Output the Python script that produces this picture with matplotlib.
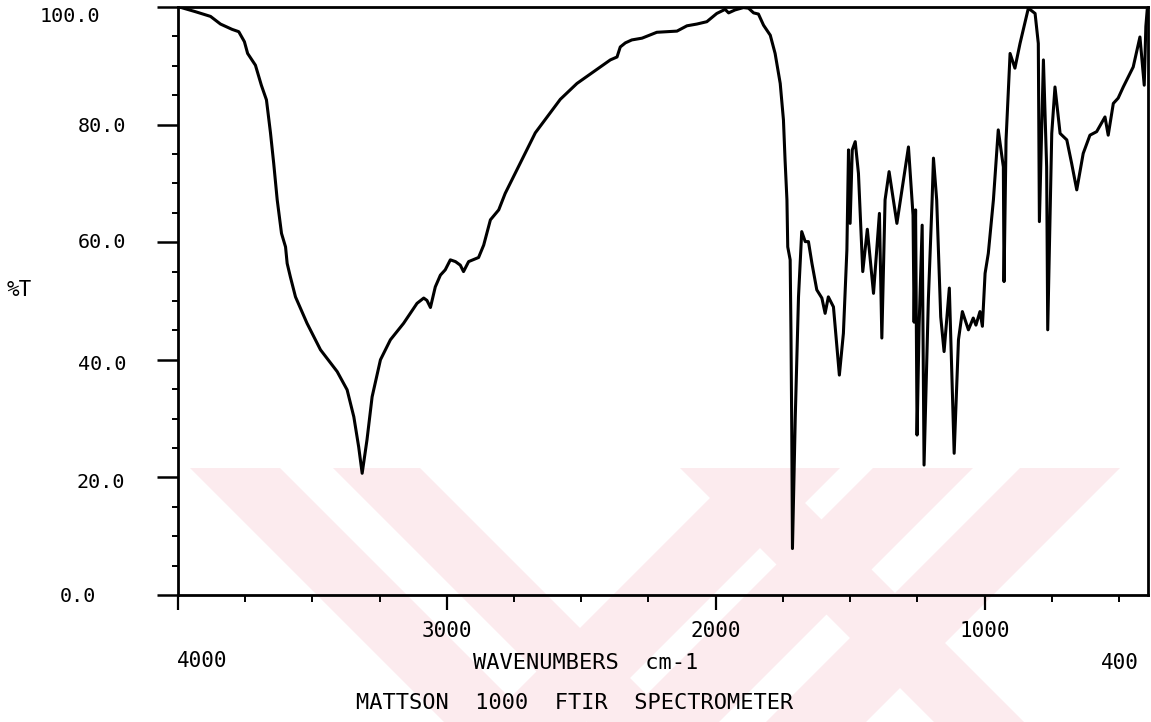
import matplotlib
matplotlib.use('Agg')
import matplotlib.pyplot as plt
from matplotlib.patches import Polygon
from matplotlib.ticker import FixedLocator

# spectrum (cm-1, %T)
wavenumber = [3995, 3935, 3879, 3842, 3799, 3774, 3753, 3741, 3712, 3690,
              3671, 3656, 3644, 3631, 3615, 3600, 3594, 3582, 3563, 3520,
              3470, 3408, 3371, 3346, 3328, 3315, 3297, 3278, 3247, 3210,
              3161, 3111, 3086, 3074, 3061, 3043, 3024, 3006, 2987, 2968,
              2950, 2938, 2919, 2882, 2863, 2838, 2807, 2783, 2758, 2671,
              2578, 2516, 2454, 2392, 2367, 2355, 2336, 2312, 2274, 2219,
              2144, 2107, 2070, 2033, 1996, 1965, 1952, 1928, 1897, 1878,
              1859, 1841, 1822, 1797, 1779, 1760, 1748, 1742, 1735, 1732,
              1723, 1720, 1717, 1714.5, 1704, 1692, 1680, 1667, 1655, 1642,
              1624, 1605, 1593, 1581, 1562, 1540, 1525, 1512, 1506, 1500,
              1492, 1481, 1469, 1453, 1436, 1413, 1391, 1382, 1370, 1355,
              1326, 1283, 1266, 1262, 1256.5, 1251, 1243.5, 1232, 1225, 1209,
              1195, 1190, 1178, 1163, 1150.5, 1131, 1113, 1097, 1082.5, 1060,
              1042, 1032, 1017, 1008, 998, 986, 967, 949, 930, 927.5,
              920, 905, 887, 868, 837, 812, 800, 796, 781, 769,
              765, 750, 738, 719, 694, 676, 657, 633, 608, 583,
              552, 540, 521, 503, 484, 447, 422, 406, 400, 395]
transmittance = [100.0, 99.2, 98.4, 97.1, 96.2, 95.8, 94.1, 92.1, 90.1, 86.7,
                 84.2, 78.6, 73.4, 67.2, 61.5, 59.2, 56.4, 54.1, 50.7, 46.2,
                 41.7, 38.0, 34.9, 30.3, 25.2, 20.7, 26.4, 33.7, 40.0, 43.4,
                 46.2, 49.6, 50.5, 50.1, 48.9, 52.4, 54.4, 55.3, 57.0, 56.7,
                 56.1, 55.0, 56.7, 57.4, 59.5, 63.8, 65.5, 68.3, 70.6, 78.6,
                 84.3, 87.0, 89.0, 91.0, 91.5, 93.2, 93.9, 94.4, 94.7, 95.7,
                 95.9, 96.8, 97.1, 97.5, 98.9, 99.6, 99.0, 99.5, 99.9, 99.8,
                 99.0, 98.8, 96.9, 95.2, 92.1, 87.0, 80.8, 74.0, 67.2, 59.2,
                 57.0, 44.6, 27.6, 7.9, 30.3, 50.7, 61.8, 60.1, 60.1, 56.4,
                 51.9, 50.5, 47.9, 50.7, 49.0, 37.4, 44.5, 58.7, 75.7, 63.2,
                 75.7, 77.1, 71.7, 55.0, 62.2, 51.3, 64.9, 43.7, 67.2, 72.0,
                 63.2, 76.2, 64.6, 46.4, 65.5, 27.2, 45.6, 62.9, 22.1, 50.2,
                 67.2, 74.3, 67.2, 47.3, 41.4, 52.2, 24.1, 43.4, 48.2, 45.1,
                 47.1, 45.9, 48.2, 45.7, 54.7, 58.1, 67.2, 79.1, 72.8, 53.3,
                 77.4, 92.1, 89.6, 93.8, 99.8, 98.9, 93.8, 63.5, 91.0, 72.8,
                 45.1, 78.5, 86.4, 78.5, 77.4, 73.4, 68.9, 75.1, 78.2, 78.8,
                 81.3, 78.2, 83.6, 84.5, 86.4, 89.8, 94.9, 86.7, 96.7, 99.5]

x_major = [4000, 3000, 2000, 1000]
x_major_labels = ['', '3000', '2000', '1000']
x_minor = [3750, 3500, 3250, 2750, 2500, 2250, 1750, 1500, 1250, 750, 500]
y_major = [0, 20, 40, 60, 80, 100]
y_major_labels = ['0.0', '20.0', '40.0', '60.0', '80.0', '100.0']
y_minor = [v for v in range(5, 100, 5) if v % 20]

W, H = 1151, 722
mono = 'DejaVu Sans Mono'


def fx(px):
    return px / W


def fy(py):
    return 1 - py / H


fig = plt.figure(figsize=(W / 100, H / 100), dpi=100)

# faint pink stamp across the lower part of the scanned page
top, bot = 468, H
drop = bot - top
stripes = [(190, 280, 1), (333, 420, 1), (680, 770, 1),
           (740, 840, -1), (873, 973, -1), (1020, 1120, -1)]
for x0, x1, d in stripes:
    pts = [(x0, top), (x1, top), (x1 + d * drop, bot), (x0 + d * drop, bot)]
    fig.add_artist(Polygon([(fx(a), fy(b)) for a, b in pts], closed=True,
                           transform=fig.transFigure, facecolor='#fcebee',
                           edgecolor='none', zorder=-5))

ax = fig.add_axes([fx(178), fy(595), (1148 - 178) / W, (595 - 7) / H])
ax.set_facecolor('none')

ax.plot(wavenumber, transmittance, color='black', lw=2.2, solid_joinstyle='round')
ax.set_xlim(4000, 392)
ax.set_ylim(0, 100)

for s in ax.spines.values():
    s.set_linewidth(2)
    s.set_color('black')

ax.xaxis.set_major_locator(FixedLocator(x_major))
ax.xaxis.set_minor_locator(FixedLocator(x_minor))
ax.set_xticklabels(x_major_labels)
ax.yaxis.set_major_locator(FixedLocator(y_major))
ax.yaxis.set_minor_locator(FixedLocator(y_minor))
ax.tick_params(axis='x', which='major', direction='out', length=11, width=1.6, pad=8,
               labelsize=15, labelfontfamily=mono)
ax.tick_params(axis='x', which='minor', direction='out', length=5, width=1.4)
ax.tick_params(axis='y', which='major', direction='out', length=15, width=1.8, labelleft=False)
ax.tick_params(axis='y', which='minor', direction='out', length=4, width=1.4)

# y labels sit where the plotter put them, not quite on the ticks
ylab_pos = {'100.0': (40, 17), '80.0': (78, 127), '60.0': (78, 243),
            '40.0': (78, 365), '20.0': (77, 483), '0.0': (60, 596)}
for lab in y_major_labels:
    px, py = ylab_pos[lab]
    fig.text(fx(px), fy(py), lab, family=mono, fontsize=14.5, ha='left', va='center')

fig.text(fx(7), fy(290), '%T', family=mono, fontsize=15, ha='left', va='center')
fig.text(fx(202), fy(661), '4000', family=mono, fontsize=15, ha='center', va='center')
fig.text(fx(1120), fy(663), '400', family=mono, fontsize=15, ha='center', va='center')
fig.text(fx(586), fy(663), 'WAVENUMBERS  cm-1', family=mono, fontsize=15.8, ha='center', va='center')
fig.text(fx(575), fy(703), 'MATTSON  1000  FTIR  SPECTROMETER', family=mono, fontsize=15.8,
         ha='center', va='center')

fig.savefig('out.png', dpi=100)
